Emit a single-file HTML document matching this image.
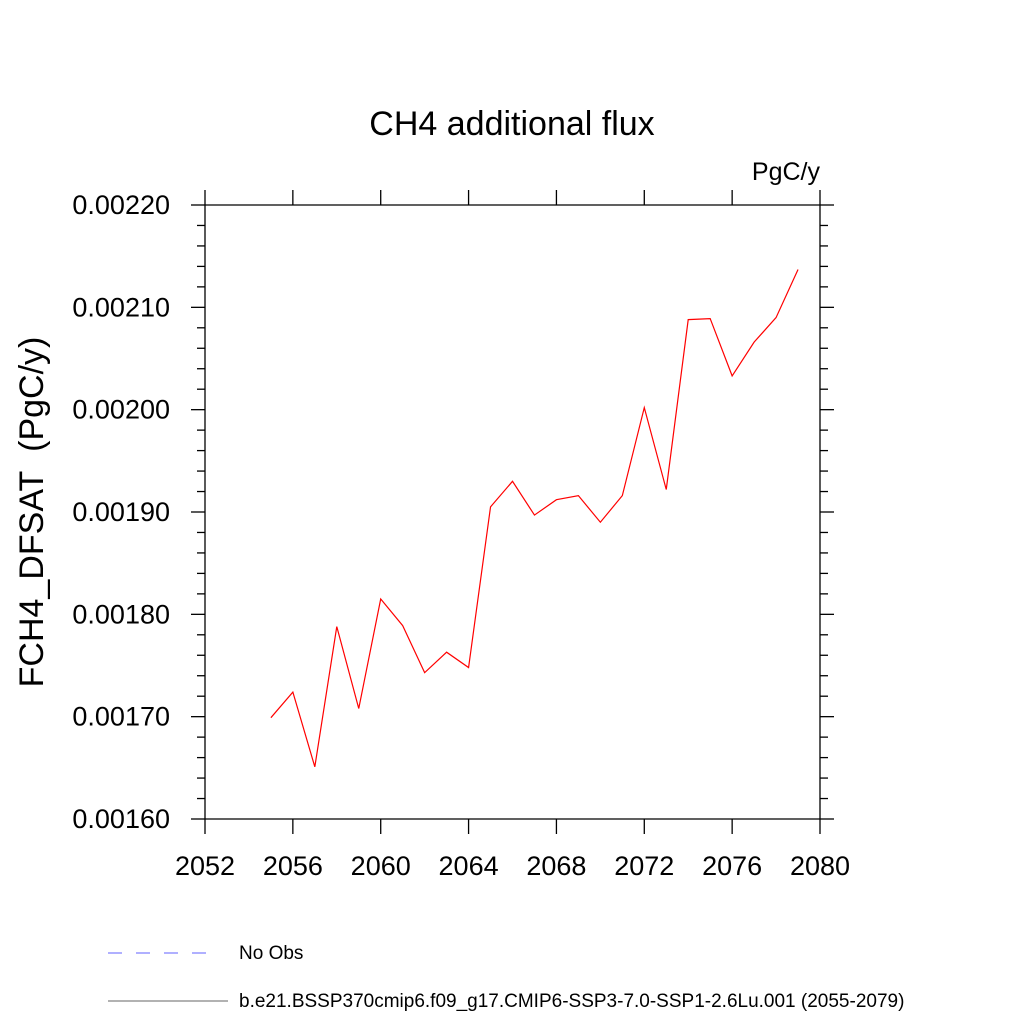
<!DOCTYPE html>
<html><head><meta charset="utf-8"><style>
html,body{margin:0;padding:0;background:#fff;width:1024px;height:1024px;overflow:hidden}
svg text{font-family:"Liberation Sans",sans-serif;fill:#000}
</style></head><body>
<svg id="chart" width="1024" height="1024" viewBox="0 0 1024 1024">
<text x="512" y="135" text-anchor="middle" font-size="34">CH4 additional flux</text>
<text x="820" y="180" text-anchor="end" font-size="25">PgC/y</text>
<text transform="translate(43,512) rotate(-90)" text-anchor="middle" font-size="34">FCH4_DFSAT&#160;&#160;(PgC/y)</text>
<g id="axes"></g>
<polyline id="series" fill="none" stroke="#ff0000" stroke-width="1.2"/>
<line x1="108" y1="953" x2="218" y2="953" stroke="#6060ff" stroke-width="1" stroke-dasharray="14,14"/>
<text x="239" y="959" font-size="19">No Obs</text>
<line x1="108" y1="1001" x2="228" y2="1001" stroke="#666" stroke-width="1"/>
<text x="239" y="1007" font-size="19">b.e21.BSSP370cmip6.f09_g17.CMIP6-SSP3-7.0-SSP1-2.6Lu.001 (2055-2079)</text>
</svg>
<script>
const years=[2055,2056,2057,2058,2059,2060,2061,2062,2063,2064,2065,2066,2067,2068,2069,2070,2071,2072,2073,2074,2075,2076,2077,2078,2079];
const values=[0.001699,0.001724,0.001651,0.001788,0.001708,0.001815,0.001789,0.001743,0.001763,0.001748,0.001905,0.001930,0.001897,0.001912,0.001916,0.001890,0.001916,0.002002,0.001922,0.002088,0.002089,0.002033,0.002066,0.002090,0.002137];
const xTicks=[2052,2056,2060,2064,2068,2072,2076,2080];
const yTicks=["0.00160","0.00170","0.00180","0.00190","0.00200","0.00210","0.00220"];
const X0=205,X1=820,Y0=819,Y1=205,xmin=2052,xmax=2080,ymin=0.0016,ymax=0.0022;
const sx=v=>X0+(v-xmin)/(xmax-xmin)*(X1-X0);
const sy=v=>Y0-(v-ymin)/(ymax-ymin)*(Y0-Y1);
const NS="http://www.w3.org/2000/svg";
const g=document.getElementById('axes');
function ln(x1,y1,x2,y2,name){const l=document.createElementNS(NS,'line');
l.setAttribute('x1',x1);l.setAttribute('y1',y1);l.setAttribute('x2',x2);l.setAttribute('y2',y2);
l.setAttribute('stroke','#000');l.setAttribute('stroke-width','1.3');


g.appendChild(l);}
function tx(x,y,s,anchor,name){const t=document.createElementNS(NS,'text');
t.setAttribute('x',x);t.setAttribute('y',y);t.setAttribute('text-anchor',anchor);t.setAttribute('font-size','27');t.textContent=s;


g.appendChild(t);}
ln(X0,Y1,X1,Y1,'plot-frame-top');ln(X0,Y0,X1,Y0,'plot-frame-bottom');
ln(X0,Y1,X0,Y0,'plot-frame-left');ln(X1,Y1,X1,Y0,'plot-frame-right');
xTicks.forEach(v=>{const x=sx(v);ln(x,Y0,x,Y0+15,'x-tick');ln(x,Y1,x,Y1-15,'x-tick-top');tx(x,Y0+56,String(v),'middle','x-tick-label');});
yTicks.forEach(s=>{const y=sy(parseFloat(s));ln(X0-14,y,X0,y,'y-tick');ln(X1,y,X1+14,y,'y-tick-right');tx(X0-35,y+9,s,'end','y-tick-label');});
for(let i=0;i<30;i++){const v=ymin+i*0.00002;if(i%5===0)continue;const y=sy(v);ln(X0-8,y,X0,y,'y-minor-tick');ln(X1,y,X1+8,y,'y-minor-tick-right');}
document.getElementById('series').setAttribute('points',years.map((yr,i)=>sx(yr)+','+sy(values[i])).join(' '));
</script>
</body></html>
